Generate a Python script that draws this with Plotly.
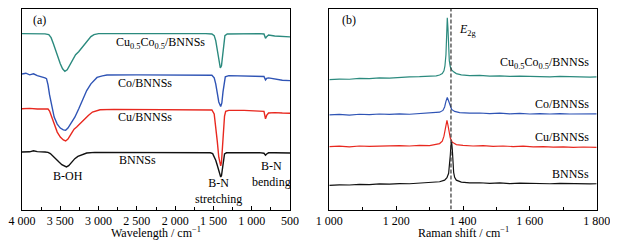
import plotly.graph_objects as go

# Page body has an 8 px margin, so the figure is drawn 8 px smaller and offset.
OFF = 8
W, H = 618 - OFF, 244 - OFF

# ---------------- Panel (a): FTIR ----------------
ir_cuco_x = [4000, 3800, 3700, 3650, 3620, 3590, 3560, 3530, 3500, 3470, 3440, 3410, 3380, 3340, 3300, 3260, 3220, 3180, 3140, 3100, 3060, 3000, 2500, 2000, 1600, 1520, 1490, 1470, 1450, 1430, 1410, 1395, 1380, 1365, 1350, 1320, 1200, 900, 840, 820, 805, 780, 700, 600, 500]
ir_cuco_y = [87.5, 87.6, 87.4, 87.0, 85.5, 82.5, 79.0, 75.5, 72.5, 70.0, 68.7, 69.5, 71.5, 74.5, 77.0, 78.5, 80.5, 82.5, 84.5, 86.0, 87.0, 87.5, 87.5, 87.6, 87.5, 87.3, 86.5, 84.0, 79.0, 73.0, 70.4, 71.5, 76.0, 83.0, 86.5, 87.3, 87.4, 87.5, 87.3, 85.2, 86.0, 86.8, 86.3, 86.0, 85.9]

ir_co_x = [4000, 3950, 3900, 3850, 3800, 3750, 3700, 3680, 3660, 3640, 3610, 3580, 3540, 3500, 3460, 3430, 3400, 3360, 3310, 3260, 3200, 3155, 3100, 3050, 3020, 2950, 2890, 2500, 2000, 1600, 1520, 1490, 1470, 1450, 1430, 1405, 1390, 1375, 1360, 1345, 1300, 1100, 900, 840, 820, 805, 780, 700, 600, 500]
ir_co_y = [67.4, 67.8, 67.0, 67.5, 66.6, 66.2, 65.5, 65.1, 62.0, 57.0, 51.0, 46.0, 42.5, 40.5, 39.6, 39.4, 40.5, 43.0, 45.9, 50.0, 55.0, 59.2, 62.5, 64.8, 65.7, 66.5, 66.9, 67.0, 67.0, 67.0, 66.8, 65.5, 62.5, 58.0, 53.5, 51.2, 53.0, 58.5, 63.5, 66.0, 66.6, 66.5, 66.5, 66.2, 64.5, 65.2, 65.5, 64.8, 64.3, 64.1]

ir_cu_x = [4000, 3900, 3800, 3700, 3660, 3640, 3610, 3580, 3540, 3500, 3460, 3430, 3400, 3360, 3320, 3286, 3250, 3200, 3134, 3080, 2981, 2800, 2000, 1600, 1520, 1490, 1470, 1450, 1430, 1415, 1405, 1395, 1385, 1370, 1355, 1340, 1300, 1100, 900, 840, 820, 805, 780, 700, 600, 500]
ir_cu_y = [50.1, 50.3, 50.0, 50.2, 50.0, 49.0, 46.0, 42.5, 38.5, 36.0, 34.6, 34.1, 35.0, 37.5, 40.0, 41.0, 42.5, 44.5, 46.8, 48.5, 49.6, 49.8, 49.8, 49.8, 49.5, 47.5, 42.0, 34.0, 26.0, 22.5, 21.7, 23.5, 30.0, 40.0, 46.5, 48.8, 49.3, 49.3, 49.2, 48.8, 45.1, 46.8, 48.0, 48.2, 48.0, 47.9]

ir_bn_x = [4000, 3900, 3850, 3800, 3700, 3660, 3630, 3600, 3560, 3520, 3480, 3440, 3420, 3390, 3350, 3310, 3270, 3220, 3155, 3050, 2500, 2000, 1600, 1540, 1510, 1490, 1470, 1450, 1430, 1415, 1405, 1395, 1385, 1370, 1355, 1330, 1100, 900, 840, 820, 805, 780, 700, 600, 500]
ir_bn_y = [28.6, 28.7, 29.2, 28.8, 28.6, 28.4, 27.8, 26.8, 25.2, 23.7, 22.3, 21.3, 21.2, 21.8, 23.5, 25.3, 26.4, 27.2, 28.1, 28.4, 28.4, 28.3, 28.3, 28.2, 27.8, 26.5, 24.5, 22.0, 19.0, 17.0, 16.2, 16.8, 20.0, 25.0, 27.6, 28.2, 28.3, 28.3, 28.0, 27.0, 27.6, 28.2, 28.2, 28.1, 28.1]

ir_ticks = [4000, 3500, 3000, 2500, 2000, 1500, 1000, 500]
ir_ticktext = ["4 000", "3 500", "3 000", "2 500", "2 000", "1 500", "1 000", "500"]

# ---------------- Panel (b): Raman ----------------
ra_cuco_x = [1000, 1030, 1060, 1090, 1120, 1150, 1180, 1210, 1240, 1270, 1300, 1320, 1330, 1338, 1343, 1346, 1349, 1351, 1353, 1355, 1357, 1359, 1362, 1366, 1372, 1380, 1395, 1420, 1450, 1480, 1510, 1540, 1570, 1600, 1630, 1660, 1690, 1720, 1750, 1780, 1800]
ra_cuco_y = [64.6, 64.9, 64.8, 65.2, 65.1, 65.5, 65.4, 65.8, 66.0, 66.1, 66.2, 66.5, 66.9, 67.6, 69.0, 71.5, 77.0, 86.0, 95.4, 90.0, 80.0, 74.0, 71.0, 69.5, 68.5, 67.6, 67.0, 66.6, 66.7, 66.4, 66.5, 66.2, 66.4, 66.2, 66.3, 66.0, 66.2, 66.0, 66.1, 65.9, 66.0]

ra_co_x = [1000, 1030, 1060, 1090, 1120, 1150, 1180, 1210, 1240, 1270, 1300, 1330, 1340, 1345, 1349, 1353, 1357, 1361, 1366, 1375, 1390, 1420, 1450, 1480, 1510, 1540, 1570, 1600, 1630, 1660, 1690, 1720, 1750, 1780, 1800]
ra_co_y = [47.1, 47.3, 47.0, 47.4, 47.2, 47.5, 47.3, 47.6, 47.4, 47.7, 47.8, 48.4, 49.3, 51.0, 53.8, 55.8, 54.0, 51.5, 49.8, 48.8, 48.2, 47.9, 48.0, 47.7, 47.9, 47.6, 47.8, 47.5, 47.7, 47.5, 47.7, 47.5, 47.6, 47.4, 47.6]

ra_cu_x = [1000, 1030, 1060, 1090, 1120, 1150, 1180, 1210, 1240, 1270, 1300, 1330, 1338, 1343, 1347, 1350, 1352, 1355, 1358, 1362, 1368, 1380, 1400, 1430, 1460, 1490, 1520, 1550, 1580, 1610, 1640, 1670, 1700, 1730, 1760, 1800]
ra_cu_y = [31.3, 31.5, 31.2, 31.6, 31.4, 31.6, 31.5, 31.8, 31.6, 31.9, 31.8, 32.8, 34.0, 36.5, 40.0, 43.5, 44.3, 42.0, 38.5, 35.5, 33.5, 32.3, 31.9, 31.6, 31.8, 31.4, 31.6, 31.3, 31.5, 31.2, 31.3, 31.0, 31.2, 30.9, 31.1, 30.9]

ra_bn_x = [1000, 1030, 1060, 1090, 1120, 1150, 1180, 1210, 1240, 1270, 1300, 1330, 1345, 1352, 1357, 1360, 1362, 1364, 1366, 1368, 1370, 1372, 1375, 1380, 1395, 1420, 1450, 1480, 1510, 1540, 1570, 1600, 1630, 1660, 1690, 1720, 1750, 1780, 1800]
ra_bn_y = [12.0, 12.3, 12.2, 12.5, 12.4, 12.7, 12.6, 12.9, 12.8, 13.1, 13.2, 13.8, 14.6, 15.8, 18.0, 22.0, 27.0, 32.0, 33.6, 30.0, 23.0, 18.5, 16.0, 14.6, 13.6, 13.2, 13.3, 13.0, 13.2, 12.9, 13.1, 12.9, 13.0, 12.8, 13.0, 12.8, 12.9, 12.7, 12.8]

ra_ticks = [1000, 1200, 1400, 1600, 1800]
ra_ticktext = ["1 000", "1 200", "1 400", "1 600", "1 800"]
e2g_pos = 1364

C_TEAL = "#2b8a7e"
C_BLUE = "#2f54b5"
C_RED = "#e8281f"
C_BLACK = "#111111"
FONT = "Liberation Serif"

fig = go.Figure()
for xs, ys, c in [(ir_cuco_x, ir_cuco_y, C_TEAL), (ir_co_x, ir_co_y, C_BLUE),
                  (ir_cu_x, ir_cu_y, C_RED), (ir_bn_x, ir_bn_y, C_BLACK)]:
    fig.add_trace(go.Scatter(x=xs, y=ys, mode="lines", line=dict(color=c, width=1.4),
                             xaxis="x", yaxis="y", showlegend=False))
for xs, ys, c in [(ra_cuco_x, ra_cuco_y, C_TEAL), (ra_co_x, ra_co_y, C_BLUE),
                  (ra_cu_x, ra_cu_y, C_RED), (ra_bn_x, ra_bn_y, C_BLACK)]:
    fig.add_trace(go.Scatter(x=xs, y=ys, mode="lines", line=dict(color=c, width=1.2),
                             xaxis="x2", yaxis="y2", showlegend=False))

fig.add_shape(type="line", xref="x2", yref="y2", x0=e2g_pos, x1=e2g_pos, y0=0, y1=100,
              line=dict(color="#333333", width=1.2, dash="4px,2px"))

def px(x):
    return min(1.0, max(0.0, (x - OFF) / W))

def py(y):
    return min(1.0, max(0.0, 1 - (y - OFF) / H))

ydom = [py(209.5), py(8.5)]
axis_common = dict(showline=True, linecolor="black", linewidth=1, mirror=True,
                   showgrid=False, zeroline=False, ticks="inside", ticklen=4,
                   automargin=False,
                   tickcolor="black", tickfont=dict(family=FONT, size=12, color="black"))

fig.update_layout(
    width=W, height=H, margin=dict(l=0, r=0, t=0, b=0, pad=0, autoexpand=False),
    paper_bgcolor="white", plot_bgcolor="white",
    xaxis=dict(domain=[px(22), px(290)], range=[4000, 500], anchor="y",
               tickvals=ir_ticks, ticktext=ir_ticktext,
               minor=dict(ticks="inside", ticklen=2.5, tick0=500, dtick=250, tickcolor="black"),
               **axis_common),
    yaxis=dict(domain=ydom, range=[0, 100], anchor="x", showticklabels=False,
               showline=True, linecolor="black", linewidth=1, mirror=True, automargin=False,
               showgrid=False, zeroline=False, ticks=""),
    xaxis2=dict(domain=[px(329.3), px(596.7)], range=[1000, 1800], anchor="y2",
                tickvals=ra_ticks, ticktext=ra_ticktext,
                minor=dict(ticks="inside", ticklen=2.5, tick0=1000, dtick=100, tickcolor="black"),
                **axis_common),
    yaxis2=dict(domain=ydom, range=[0, 100], anchor="x2", showticklabels=False,
                showline=True, linecolor="black", linewidth=1, mirror=True, automargin=False,
                showgrid=False, zeroline=False, ticks=""),
)

def ann(text, x, y, xanchor="center", size=12):
    fig.add_annotation(text=text, xref="paper", yref="paper", x=px(x), y=py(y),
                       xanchor=xanchor, yanchor="middle", showarrow=False,
                       font=dict(family=FONT, size=size, color="black"))

ann("(a)", 31, 20, "left")
ann("Cu<sub>0.5</sub>Co<sub>0.5</sub>/BNNSs", 160, 43)
ann("Co/BNNSs", 145, 83)
ann("Cu/BNNSs", 145, 117)
ann("BNNSs", 137, 160)
ann("B-OH", 67.5, 175.5)
ann("B-N<br>stretching", 219, 191)
ann("B-N<br>bending", 271, 174)
ann("Wavelength / cm<sup>−1</sup>", 156, 232)

ann("(b)", 340, 20, "left")
ann("<i>E</i><sub>2g</sub>", 457, 30, "left")
ann("Cu<sub>0.5</sub>Co<sub>0.5</sub>/BNNSs", 591, 63, "right")
ann("Co/BNNSs", 591, 104, "right")
ann("Cu/BNNSs", 591, 137, "right")
ann("BNNSs", 591, 174, "right")
ann("Raman shift / cm<sup>−1</sup>", 463, 232)

fig.write_html("out.html")
